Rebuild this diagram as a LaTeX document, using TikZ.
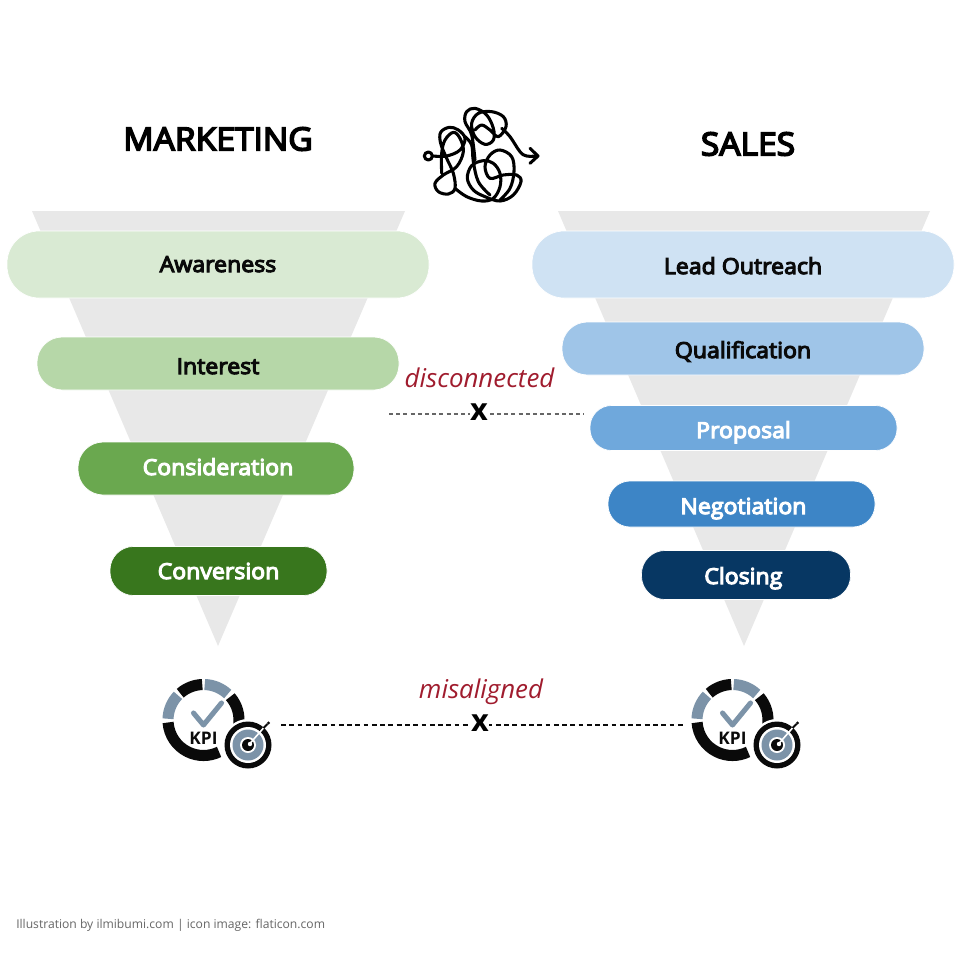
\documentclass[tikz,border=0pt]{standalone}
\usepackage{fontspec}
\setmainfont{Open Sans}
\newfontfamily\semi{Open Sans}[FakeBold=5,FakeStretch=1.05]
\usetikzlibrary{calc}
\definecolor{funnel}{HTML}{E8E8E8}
\definecolor{mkA}{HTML}{D9EAD3}
\definecolor{mkB}{HTML}{B6D7A8}
\definecolor{mkC}{HTML}{6AA84F}
\definecolor{mkD}{HTML}{38761D}
\definecolor{saA}{HTML}{CFE2F3}
\definecolor{saB}{HTML}{9FC5E8}
\definecolor{saC}{HTML}{6FA8DC}
\definecolor{saD}{HTML}{3D85C6}
\definecolor{saE}{HTML}{073763}
\definecolor{kpigray}{HTML}{7C93A8}
\definecolor{wine}{HTML}{A01C2E}
\definecolor{ink}{HTML}{0A0A0A}
% text inside a bar: dx, then distance of the baseline below the bar's centre, in pixels
\newcommand{\barlabel}[3]{\kern #1pt\raisebox{-#2\dimexpr0.75pt\relax}[0pt][0pt]{#3}}
\tikzset{
  x=0.75pt,y=-0.75pt,
  barbox/.style n args={4}{draw=white,line width=0.5pt,fill=#1,text=#2,minimum width=#3*0.75pt,minimum height=#4*0.75pt,
     rounded corners=#4*0.36pt,inner sep=0pt,font=\semi\fontsize{16.5}{20}\selectfont},
  title/.style={font=\semi\fontsize{24}{28}\selectfont,text=black,inner sep=0pt},
  note/.style={font=\itshape\fontsize{19.4}{22}\selectfont,text=wine,inner sep=0pt},
  gapline/.style={dashed,dash pattern=on 3.6pt off 2.6pt,line width=1pt},
  thingap/.style={dashed,dash pattern=on 3pt off 2.4pt,line width=0.8pt},
  cross/.style={font=\bfseries\fontsize{23}{24}\selectfont,text=black,inner sep=0pt,fill=white,outer sep=1pt},
  kpiring/.style={line width=8.3pt},
  pics/kpi/.style={code={
    \begin{scope}[y=0.75pt]
    \draw[kpiring,draw=ink] (92:35.5) arc[start angle=92,end angle=131,radius=35.5*0.75pt];
    \draw[kpiring,draw=kpigray] (88:35.5) arc[start angle=88,end angle=47,radius=35.5*0.75pt];
    \draw[kpiring,draw=ink] (41:35.5) arc[start angle=41,end angle=-10,radius=35.5*0.75pt];
    \draw[kpiring,draw=kpigray] (136:35.5) arc[start angle=136,end angle=178,radius=35.5*0.75pt];
    \draw[kpiring,draw=ink] (184:35.5) arc[start angle=184,end angle=296,radius=35.5*0.75pt];
    \end{scope}
    \draw[draw=kpigray,line width=3.8pt,line cap=round,line join=round] (-10,-7) -- (0,5) -- (18,-17);
    \node[font=\bfseries\fontsize{13}{14}\selectfont,text=ink,inner sep=0pt] at (0,18) {KPI};
    \fill[white] (44.5,25) circle (26);
    \fill[ink] (44.5,25) circle (23.5);
    \fill[white] (44.5,25) circle (18);
    \fill[kpigray] (44.5,25) circle (15.5);
    \fill[white] (44.5,25) circle (8);
    \fill[ink] (44.5,25) circle (6);
    \fill[white] (46.5,24) circle (2.2);
    \draw[white,line width=1.2pt] (46,24) -- (60,8);
    \draw[ink,line width=1.5pt] (60,8) -- (64,4);
    \fill[ink] (65,3) circle (1.6);
  }},
}
\begin{document}
\begin{tikzpicture}
\useasboundingbox (0,0) rectangle (960,960);
\fill[white] (0,0) rectangle (960,960);
\fill[funnel] (32,211) -- (405,211) -- (218,646) -- cycle;
\fill[funnel] (558,211) -- (930,211) -- (744,646) -- cycle;
\node[title] (tm) at (218,139) {MARKETING};
\node[title] (ts) at (748,144) {SALES};
\node[barbox={mkA}{ink}{422}{67}] (m1) at (218,264.5) {\barlabel{0}{7.5}{Awareness}};
\node[barbox={mkB}{ink}{362}{53}] (m2) at (218,363.5) {\barlabel{0}{10.5}{Interest}};
\node[barbox={mkC}{white}{276}{53}] (m3) at (216,468.5) {\barlabel{3}{6.5}{Consideration}};
\node[barbox={mkD}{white}{217}{49}] (m4) at (218.5,571) {\barlabel{0}{8}{Conversion}};
\node[barbox={saA}{ink}{422}{67}] (s1) at (743,264.5) {\barlabel{0}{9.5}{Lead Outreach}};
\node[barbox={saB}{ink}{362}{53}] (s2) at (743,348.5) {\barlabel{0}{9.5}{Qualification}};
\node[barbox={saC}{white}{307}{45}] (s3) at (743.5,428) {\barlabel{0}{10}{Proposal}};
\node[barbox={saD}{white}{267}{46}] (s4) at (741.5,504) {\barlabel{3}{10}{Negotiation}};
\node[barbox={saE}{white}{209}{49}] (s5) at (746,575) {\barlabel{-4}{9}{Closing}};
\coordinate (dl) at (389,414);
\coordinate (dr) at (584,414);
\draw[thingap,draw=black!60] (dl) -- (dr);
\node[cross] (dx) at (479,412) {x};
\node[note] (dn) at (479.5,378) {disconnected};
\path (203.5,720) pic {kpi};
\path (732.5,720) pic {kpi};
\coordinate (kl) at (281,725);
\coordinate (kr) at (684,725);
\draw[gapline,draw=ink] (kl) -- (kr);
\node[cross] (kx) at (480,723) {x};
\node[note] (kn) at (481,691.5) {misaligned};
\begin{scope}[shift={(410,95)},x=0.25pt,y=-0.25pt,line width=2.3pt,draw=black,line cap=round,line join=round]
\draw (55,183) circle (12);
\draw plot[smooth,tension=0.6] coordinates {(68,183) (110,183) (150,165) (165,130) (145,105) (118,97) (92,112) (92,145) (110,190) (130,235) (135,280) (115,297) (85,290) (75,265) (100,240) (140,215) (160,170) (150,130) (130,112) (105,135) (95,175) (95,235)};
\draw plot[smooth,tension=0.6] coordinates {(135,280) (170,305) (215,318) (250,310) (270,275) (270,235) (250,205) (220,197) (185,212) (172,250) (190,285) (225,305) (270,318) (310,300) (333,260) (320,240) (280,240) (240,250) (225,215) (240,180) (270,165) (305,185) (312,230) (300,280) (270,315)};
\draw plot[smooth,tension=0.6] coordinates {(165,125) (185,150) (190,200) (205,260) (240,300)};
\draw plot[smooth,tension=0.6] coordinates {(195,195) (185,120) (165,80) (170,50) (195,40) (230,60) (250,100) (250,135) (225,148) (195,125) (185,85) (205,55) (245,50) (280,65) (288,95) (265,125) (240,105) (215,90) (195,105)};
\draw plot[smooth,tension=0.6] coordinates {(275,100) (300,125) (330,170) (350,183) (383,183)};
\draw (360,160) -- (384,183) -- (360,205);
\end{scope}
\node[anchor=west,inner sep=0pt,font=\fontsize{9.1}{11}\selectfont,text=black!60] (cr) at (16,925) {Illustration by ilmibumi.com | icon image: flaticon.com};
\end{tikzpicture}
\end{document}
